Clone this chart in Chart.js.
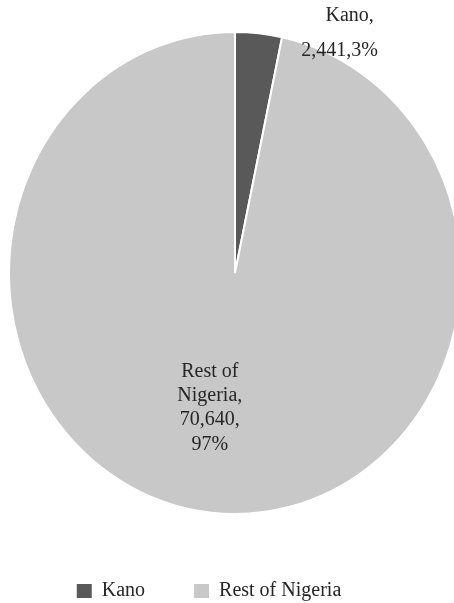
<!DOCTYPE html>
<html lang="en">
<head>
  <meta charset="UTF-8" />
  <title>Kano and Rest of Nigeria</title>
  <script src="https://cdn.jsdelivr.net/npm/chart.js"></script>
  <style>
    html, body {
      margin: 0;
      padding: 0;
      background: #fff;
      overflow: hidden;
    }
    .wrap {
      width: 454px;
      height: 603px;
      overflow: hidden;
    }
    canvas { display: block; }
  </style>
</head>
<body>
  <div class="wrap">
    <canvas id="pieChart" width="454" height="611"></canvas>
  </div>

  <script>
    const labels = ['Kano', 'Rest of Nigeria'];
    const values = [2441, 70640];
    const colors = ['#595959', '#c8c8c8'];

    const total = values.reduce((a, b) => a + b, 0);
    const pct = v => Math.round(v / total * 100);
    const fmt = v => v.toLocaleString('en-US');

    // the original pie is a bit taller than wide, so stretch the arcs round a fixed centre
    const PIE_CX = 235, PIE_CY = 273, STRETCH_Y = 240 / 225;

    const ellipsePie = {
      id: 'ellipsePie',
      beforeDatasetsDraw(chart) {
        const arc = chart.getDatasetMeta(0).data[0];
        const ctx = chart.ctx;
        ctx.save();
        ctx.translate(PIE_CX, PIE_CY);
        ctx.scale(1, STRETCH_Y);
        ctx.translate(-arc.x, -arc.y);
      },
      afterDatasetsDraw(chart) {
        chart.ctx.restore();
      }
    };

    // data labels in the Excel style: name, value, percent
    const sliceLabels = {
      id: 'sliceLabels',
      afterDraw(chart) {
        const ctx = chart.ctx;
        const meta = chart.getDatasetMeta(0);
        ctx.save();
        ctx.font = '20px "Liberation Serif"';
        ctx.fillStyle = '#262626';
        ctx.textAlign = 'center';
        ctx.textBaseline = 'alphabetic';

        meta.data.forEach((arc, i) => {
          const mid = (arc.startAngle + arc.endAngle) / 2;
          const r = arc.outerRadius;
          let lines;
          if (i === 0) {
            // outside the small slice
            const px = PIE_CX + Math.cos(mid) * r;
            const py = PIE_CY + Math.sin(mid) * r * STRETCH_Y;
            lines = [
              [labels[i] + ',', px + 91, py - 12],
              [fmt(values[i]) + ',' + pct(values[i]) + '%', px + 81, py + 23]
            ];
          } else {
            const px = PIE_CX + Math.cos(mid) * r * 0.6;
            const py = PIE_CY + Math.sin(mid) * r * 0.6 * STRETCH_Y;
            const words = labels[i].split(' ');
            lines = [
              [words.slice(0, 2).join(' '), px - 11, py - 40],
              [words.slice(2).join(' ') + ',', px - 11, py - 16],
              [fmt(values[i]) + ',', px - 11, py + 8],
              [pct(values[i]) + '%', px - 11, py + 33]
            ];
          }
          lines.forEach(([t, x, y]) => ctx.fillText(t, x, y));
        });
        ctx.restore();
      }
    };

    new Chart(document.getElementById('pieChart').getContext('2d'), {
      type: 'pie',
      data: {
        labels: labels,
        datasets: [{
          data: values,
          backgroundColor: colors,
          borderColor: '#ffffff',
          borderWidth: 2,
          radius: 226,
          clip: false
        }]
      },
      options: {
        responsive: false,
        animation: false,
        layout: { padding: { right: 36 } },
        plugins: {
          tooltip: { enabled: false },
          legend: {
            position: 'bottom',
            labels: {
              boxWidth: 15,
              boxHeight: 14,
              padding: 49,
              color: '#262626',
              font: { family: '"Liberation Serif"', size: 20 },
              generateLabels(chart) {
                return Chart.overrides.pie.plugins.legend.labels.generateLabels(chart)
                  .map(item => ({ ...item, lineWidth: 0 }));
              }
            }
          }
        }
      },
      plugins: [ellipsePie, sliceLabels]
    });
  </script>
</body>
</html>
